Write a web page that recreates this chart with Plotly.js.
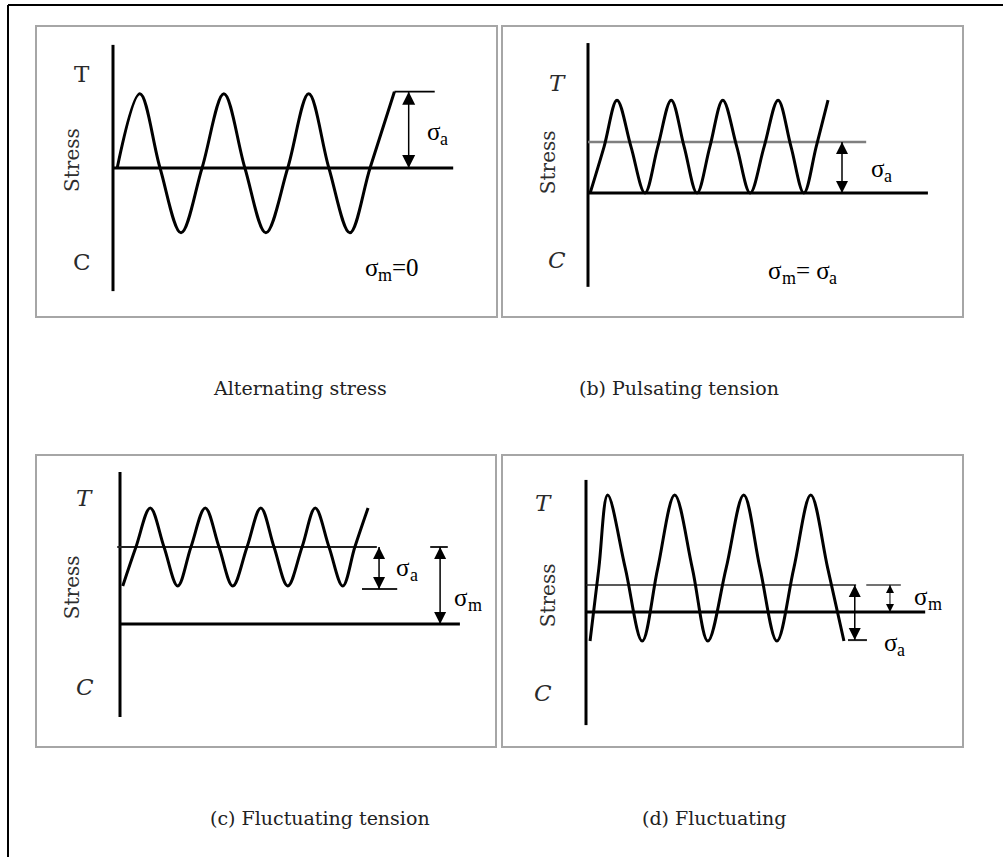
<!DOCTYPE html>
<html>
<head>
<meta charset="utf-8">
<script src="https://cdn.plot.ly/plotly-3.0.1.min.js"></script>
<style>
  html, body { margin: 0; padding: 0; background: #fff; }
  #chart { width: 1003px; height: 857px; }
</style>
</head>
<body>
<div id="chart"></div>
<script>
// ---------------- DATA (time in cycles, stress in panel units) ----------------
// Panel (a) Alternating stress
const aWaveT = [0.05, 0.32, 0.56, 0.81, 1.06, 1.32, 1.57, 1.82, 2.08, 2.33, 2.57, 2.82, 3.06, 3.35];
const aWaveS = [0, 1.03, 0, -0.90, 0, 1.03, 0, -0.90, 0, 1.03, 0, -0.90, 0, 1.06];
const aAxisT = [0, 0],       aAxisS = [-1.71, 1.71];
const aBaseT = [0, 4.05],    aBaseS = [0, 0];
const aTopT  = [3.35, 3.83], aTopS  = [1.06, 1.06];
const aArrowT = [3.52],      aArrowFrom = [1.06], aArrowTo = [0];

// Panel (b) Pulsating tension
const bWaveT = [0.04, 0.30, 0.54, 0.80, 1.06, 1.30, 1.55, 1.79, 2.03, 2.27, 2.51, 2.77, 3.02, 3.28, 3.54, 3.78, 4.02, 4.25, 4.47];
const bWaveS = [0, 0.91, 1.82, 0.91, 0, 0.91, 1.82, 0.91, 0, 0.91, 1.82, 0.91, 0, 0.91, 1.82, 0.91, 0, 0.91, 1.82];
const bAxisT = [0, 0],       bAxisS = [-1.84, 2.94];
const bBaseT = [0, 6.33],    bBaseS = [0, 0];
const bMeanT = [0, 5.18],    bMeanS = [1, 1];
const bArrowT = [4.73],      bArrowFrom = [1], bArrowTo = [0];

// Panel (c) Fluctuating tension
const cWaveT = [0.05, 0.29, 0.55, 0.80, 1.05, 1.29, 1.55, 1.80, 2.05, 2.31, 2.56, 2.80, 3.05, 3.31, 3.55, 3.80, 4.05, 4.27, 4.51];
const cWaveS = [0.95, 1.925, 2.9, 1.925, 0.95, 1.925, 2.9, 1.925, 0.95, 1.925, 2.9, 1.925, 0.95, 1.925, 2.9, 1.925, 0.95, 1.925, 2.9];
const cAxisT = [0, 0],        cAxisS = [-2.325, 3.8];
const cBaseT = [0, 6.18],     cBaseS = [0, 0];
const cMeanT = [-0.05, 4.67], cMeanS = [1.925, 1.925];
const cLowTickT = [4.40, 5.04], cLowTickS = [0.875, 0.875];
const cTopTickT = [5.64, 5.96], cTopTickS = [1.925, 1.925];
const cArrowT = [4.71, 5.82], cArrowFrom = [1.925, 1.925], cArrowTo = [0.875, 0];

// Panel (d) Fluctuating
const dWaveT = [0.06, 0.19, 0.32, 0.58, 0.83, 1.06, 1.31, 1.57, 1.80, 2.07, 2.33, 2.57, 2.82, 3.07, 3.32, 3.57, 3.81];
const dWaveS = [-1.115, 1.69, 4.5, 1.69, -1.115, 1.69, 4.5, 1.69, -1.115, 1.69, 4.5, 1.69, -1.115, 1.69, 4.5, 1.69, -1.115];
const dAxisT = [0, 0],        dAxisS = [-4.35, 5.08];
const dBaseT = [0, 5.01],     dBaseS = [0, 0];
const dMeanT = [0, 3.99],     dMeanS = [1.04, 1.04];
const dLowTickT = [3.87, 4.15], dLowTickS = [-1.08, -1.08];
const dTopTickT = [4.14, 4.65], dTopTickS = [1.04, 1.04];
const dArrowT = [3.97, 4.49], dArrowFrom = [1.04, 1.04], dArrowTo = [-1.08, 0];

// Text
const captions = ['Alternating stress', '(b) Pulsating tension', '(c) Fluctuating tension', '(d) Fluctuating'];
const axisWord = 'Stress';
const tensionMark = 'T', compressionMark = 'C';
// symbol labels as [text, isSubscript] segments
const lblSigmaA   = [['σ', 0], ['a', 1]];
const lblSigmaM   = [['σ', 0], ['m', 1]];
const lblMeanZero = [['σ', 0], ['m', 1], ['=0', 0]];
const lblMeanEqA  = [['σ', 0], ['m', 1], ['= σ', 0], ['a', 1]];

// ---------------- LAYOUT GEOMETRY ----------------
const W = 1003, H = 857;
const panels = [
  { id: '',  box: [36, 26, 497, 317],  x0: 113, sx: 84,   y0: 168, sy: 72 },
  { id: '2', box: [502, 26, 963, 317], x0: 588, sx: 53.7, y0: 193, sy: 51 },
  { id: '3', box: [36, 455, 496, 747], x0: 120, sx: 55,   y0: 624, sy: 40 },
  { id: '4', box: [502, 455, 963, 747], x0: 586, sx: 67.7, y0: 612, sy: 26 }
];
const px = v => v / W;
const py = v => 1 - v / H;

const layout = {
  width: W, height: H,
  margin: { l: 0, r: 0, t: 0, b: 0 },
  paper_bgcolor: '#ffffff', plot_bgcolor: 'rgba(0,0,0,0)',
  showlegend: false,
  shapes: [], annotations: []
};
panels.forEach(p => {
  const [l, t, r, b] = p.box;
  layout['xaxis' + p.id] = {
    domain: [px(l), px(r)], range: [(l - p.x0) / p.sx, (r - p.x0) / p.sx],
    visible: false, fixedrange: true, anchor: 'y' + p.id
  };
  layout['yaxis' + p.id] = {
    domain: [py(b), py(t)], range: [(p.y0 - b) / p.sy, (p.y0 - t) / p.sy],
    visible: false, fixedrange: true, anchor: 'x' + p.id
  };
  layout.shapes.push({
    type: 'rect', xref: 'paper', yref: 'paper',
    x0: px(l), x1: px(r), y0: py(b), y1: py(t),
    line: { color: '#a6a6a6', width: 2 }, fillcolor: 'rgba(0,0,0,0)'
  });
});
// outer frame (left and top edges)
layout.shapes.push({ type: 'line', xref: 'paper', yref: 'paper', x0: px(8), x1: px(8), y0: py(5), y1: 0, line: { color: '#000', width: 2 } });
layout.shapes.push({ type: 'line', xref: 'paper', yref: 'paper', x0: px(8), x1: 1, y0: py(5), y1: py(5), line: { color: '#000', width: 2 } });

// ---------------- TRACES ----------------
const traces = [];
function addLine(id, t, s, width, color, shape) {
  traces.push({
    x: t, y: s, xaxis: 'x' + id, yaxis: 'y' + id, type: 'scatter', mode: 'lines',
    line: { color: color || '#000', width: width, shape: shape || 'linear', smoothing: 1 },
    hoverinfo: 'skip', showlegend: false
  });
}
// double-headed arrows: a line with arrow markers whose tips sit on the end points
function addArrows(id, ts, from, to, width, head) {
  ts.forEach((t, i) => {
    const up = from[i] > to[i];
    traces.push({
      x: [t, t], y: [from[i], to[i]], xaxis: 'x' + id, yaxis: 'y' + id,
      type: 'scatter', mode: 'lines+markers',
      line: { color: '#000', width: width },
      marker: { symbol: up ? ['arrow-up', 'arrow-down'] : ['arrow-down', 'arrow-up'],
                size: head, color: '#000', line: { width: 0 } },
      hoverinfo: 'skip', showlegend: false
    });
  });
}
function addText(id, x, y, text, size, color, family, angle) {
  layout.annotations.push({
    xref: id === null ? 'paper' : 'x' + id, yref: id === null ? 'paper' : 'y' + id,
    x: x, y: y, text: text, showarrow: false, xanchor: 'center', yanchor: 'middle',
    textangle: angle || 0, borderpad: 0, borderwidth: 0,
    font: { family: family || 'Liberation Serif, serif', size: size, color: color || '#000' }
  });
}
// text with subscripts, laid out as separate pieces measured with canvas
const ctx = document.createElement('canvas').getContext('2d');
function textWidth(str, size, family) { ctx.font = size + 'px ' + family; return ctx.measureText(str).width; }
function addRich(id, x, y, segs, size) {
  const fam = 'Liberation Serif';
  const subSize = Math.round(size * 0.7);
  const widths = segs.map(s => textWidth(s[0], s[1] ? subSize : size, fam));
  const total = widths.reduce((a, b) => a + b, 0);
  let off = -total / 2;
  segs.forEach((s, i) => {
    layout.annotations.push({
      xref: 'x' + id, yref: 'y' + id, x: x, y: y, text: s[0], showarrow: false,
      xanchor: 'left', yanchor: 'middle', xshift: off, yshift: s[1] ? -0.3 * size : 0,
      borderpad: 0, borderwidth: 0,
      font: { family: fam + ', serif', size: s[1] ? subSize : size, color: '#000' }
    });
    off += widths[i];
  });
}

// (a)
addLine('', aAxisT, aAxisS, 3);
addLine('', aBaseT, aBaseS, 3);
addLine('', aWaveT, aWaveS, 3, '#000', 'spline');
addLine('', aTopT, aTopS, 1.8);
addArrows('', aArrowT, aArrowFrom, aArrowTo, 1.5, 13);
// (b)
addLine('2', bAxisT, bAxisS, 3);
addLine('2', bBaseT, bBaseS, 3);
addLine('2', bMeanT, bMeanS, 2.5, '#7f7f7f');
addLine('2', bWaveT, bWaveS, 3, '#000', 'spline');
addArrows('2', bArrowT, bArrowFrom, bArrowTo, 1.5, 12);
// (c)
addLine('3', cAxisT, cAxisS, 3);
addLine('3', cBaseT, cBaseS, 3);
addLine('3', cMeanT, cMeanS, 2, '#222');
addLine('3', cLowTickT, cLowTickS, 2, '#222');
addLine('3', cTopTickT, cTopTickS, 2, '#222');
addLine('3', cWaveT, cWaveS, 3, '#000', 'spline');
addArrows('3', cArrowT, cArrowFrom, cArrowTo, 1.5, 12);
// (d)
addLine('4', dAxisT, dAxisS, 3);
addLine('4', dBaseT, dBaseS, 3);
addLine('4', dMeanT, dMeanS, 1.5, '#222');
addLine('4', dLowTickT, dLowTickS, 2, '#222');
addLine('4', dTopTickT, dTopTickS, 1.5, '#444');
addLine('4', dWaveT, dWaveS, 3, '#000', 'spline');
addArrows('4', [dArrowT[0]], [dArrowFrom[0]], [dArrowTo[0]], 1.5, 12);
addArrows('4', [dArrowT[1]], [dArrowFrom[1]], [dArrowTo[1]], 1, 8);

// ---------------- LABELS ----------------
const capFont = 'DejaVu Serif, serif';
const tcSize = 23, stressSize = 20, sigSize = 25;
// (a)
addText('', -0.37, 1.31, tensionMark, tcSize, '#2a2a2a', capFont);
addText('', -0.37, -1.31, compressionMark, tcSize, '#2a2a2a', capFont);
addText('', -0.49, 0.11, axisWord, stressSize, '#2e2e2e', capFont, -90);
addRich('', 3.86, 0.51, lblSigmaA, sigSize);
addRich('', 3.32, -1.375, lblMeanZero, sigSize);
// (b)
addText('2', -0.56, 2.16, '<i>' + tensionMark + '</i>', tcSize, '#2a2a2a', capFont);
addText('2', -0.58, -1.31, '<i>' + compressionMark + '</i>', tcSize, '#2a2a2a', capFont);
addText('2', -0.74, 0.61, axisWord, stressSize, '#2e2e2e', capFont, -90);
addRich('2', 5.47, 0.49, lblSigmaA, sigSize);
addRich('2', 4.0, -1.51, lblMeanEqA, sigSize);
// (c)
addText('3', -0.64, 3.15, '<i>' + tensionMark + '</i>', tcSize, '#2a2a2a', capFont);
addText('3', -0.64, -1.575, '<i>' + compressionMark + '</i>', tcSize, '#2a2a2a', capFont);
addText('3', -0.87, 0.925, axisWord, stressSize, '#2e2e2e', capFont, -90);
addRich('3', 5.22, 1.425, lblSigmaA, sigSize);
addRich('3', 6.33, 0.675, lblSigmaM, sigSize);
// (d)
addText('4', -0.635, 4.19, '<i>' + tensionMark + '</i>', tcSize, '#2a2a2a', capFont);
addText('4', -0.635, -3.115, '<i>' + compressionMark + '</i>', tcSize, '#2a2a2a', capFont);
addText('4', -0.56, 0.65, axisWord, stressSize, '#2e2e2e', capFont, -90);
addRich('4', 5.05, 0.58, lblSigmaM, sigSize);
addRich('4', 4.56, -1.19, lblSigmaA, sigSize);
// captions
addText(null, px(300), py(388), captions[0], 19, '#222', capFont);
addText(null, px(679), py(388), captions[1], 19, '#222', capFont);
addText(null, px(320), py(818), captions[2], 19, '#222', capFont);
addText(null, px(714), py(818), captions[3], 19, '#222', capFont);

Plotly.newPlot('chart', traces, layout, { displayModeBar: false, staticPlot: true });
</script>
</body>
</html>
